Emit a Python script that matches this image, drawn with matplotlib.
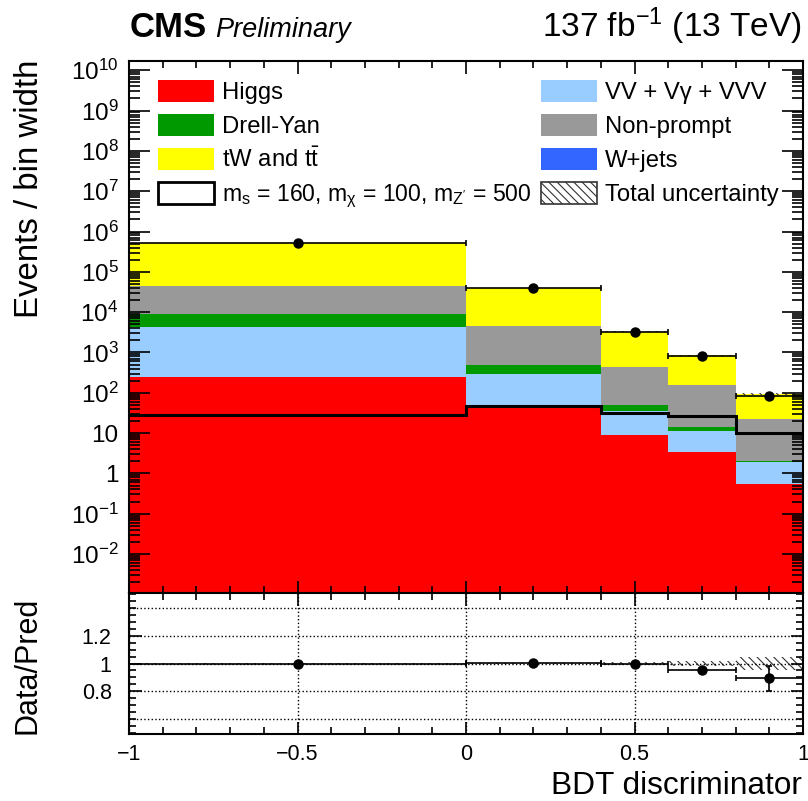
import numpy as np
import matplotlib
matplotlib.use("Agg")
import matplotlib.pyplot as plt
from matplotlib.patches import Rectangle
from matplotlib.ticker import LogLocator, MultipleLocator, FuncFormatter, FixedLocator, NullFormatter

plt.rcParams['font.family'] = ['Liberation Sans', 'DejaVu Sans']
plt.rcParams['mathtext.fontset'] = 'custom'
plt.rcParams['mathtext.rm'] = 'Liberation Sans'
plt.rcParams['mathtext.it'] = 'Liberation Sans:italic'
plt.rcParams['mathtext.bf'] = 'Liberation Sans:bold'
plt.rcParams['hatch.linewidth'] = 0.8

# BDT bins and yields (events / bin width)
edges = np.array([-1.0, 0.0, 0.4, 0.6, 0.8, 1.0])
higgs = np.array([250, 46, 8.9, 3.4, 0.55])
vv = np.array([4050, 240, 26, 7.6, 1.35])
dy = np.array([4600, 204, 14, 3.1, 0.1])
nonprompt = np.array([36100, 3960, 393, 142, 19.9])
top = np.array([485000, 35550, 2858, 694, 70])
wjets = np.array([150, 12, 1.0, 0.3, 0.05])
signal = np.array([28, 47, 31, 27, 9.8])
data = np.array([530000, 40200, 3300, 808, 82])
data_err = np.array([900, 200, 30, 17, 8.5])
syst_rel = np.array([0.004, 0.005, 0.008, 0.02, 0.045])
ratio_ticks = [0.8, 1.0, 1.2]
ratio_grid = [0.6, 1.4]

stack = [
    (higgs, '#ff0000'),
    (vv, '#99ccff'),
    (dy, '#009a00'),
    (nonprompt, '#999999'),
    (top, '#ffff00'),
    (wjets, '#3366ff'),
]

W, H = 808, 801


def fpos(x, y):
    return x / W, 1 - y / H


fig = plt.figure(figsize=(W / 100, H / 100), dpi=100)
ax = fig.add_axes([129 / W, 1 - 593 / H, 674 / W, 532 / H])
ax2 = fig.add_axes([129 / W, 1 - 734 / H, 674 / W, 141 / H], sharex=ax)

centers = 0.5 * (edges[1:] + edges[:-1])
halfw = 0.5 * np.diff(edges)

# stacked backgrounds
bottom = np.full(len(higgs), 1e-6)
for vals, color in stack:
    upper = bottom + vals
    ax.stairs(upper, edges, baseline=bottom, fill=True, color=color, lw=0)
    bottom = upper
total = bottom

ax.stairs(total * (1 + syst_rel), edges, baseline=total * (1 - syst_rel), fill=True,
          facecolor='none', edgecolor='#333333', hatch='\\\\\\\\', lw=0)
ax.stairs(signal, edges, baseline=None, color='black', lw=2.2)
ax.errorbar(centers, data, xerr=halfw, yerr=data_err, fmt='o', color='black',
            ms=6.5, capsize=2.5, elinewidth=1.2, capthick=1.2)

ax.set_yscale('log')
ax.set_ylim(1.08e-3, 1.7e10)
ax.set_xlim(-1, 1)


def log_label(v, pos):
    n = int(round(np.log10(v)))
    if n == 0:
        return '1'
    if n == 1:
        return '10'
    return '$10^{%d}$' % n


ax.yaxis.set_major_locator(LogLocator(base=10, numticks=100))
ax.yaxis.set_minor_locator(LogLocator(base=10, subs=np.arange(2, 10), numticks=100))
ax.yaxis.set_major_formatter(FuncFormatter(log_label))
ax.yaxis.set_minor_formatter(NullFormatter())
ax.xaxis.set_major_locator(MultipleLocator(0.5))
ax.xaxis.set_minor_locator(MultipleLocator(0.1))
ax.tick_params(which='both', direction='in', top=True, right=True, labelbottom=False,
               width=1.2)
ax.tick_params(which='minor', labelleft=False)
ax.tick_params(axis='y', which='major', length=15, pad=7.5, labelsize=17.5)
ax.tick_params(axis='y', which='minor', length=8)
ax.tick_params(axis='x', which='major', length=9)
ax.tick_params(axis='x', which='minor', length=5)

# ratio panel
ratio = data / total
ratio_err = data_err / total
ax2.stairs(1 + syst_rel, edges, baseline=1 - syst_rel, fill=True,
           facecolor='none', edgecolor='#333333', hatch='\\\\\\\\', lw=0)
ax2.errorbar(centers, ratio, xerr=halfw, yerr=ratio_err, fmt='o', color='black',
             ms=6.5, capsize=2.5, elinewidth=1.2, capthick=1.2)
ax2.set_ylim(0.49, 1.51)
ax2.yaxis.set_major_locator(FixedLocator(ratio_ticks))
ax2.yaxis.set_minor_locator(MultipleLocator(0.05))
ax2.yaxis.set_major_formatter(FuncFormatter(lambda v, p: '%g' % v))
ax2.xaxis.set_major_formatter(FuncFormatter(lambda v, p: ('%g' % v).replace('-', '\u2212')))
ax2.grid(True, which='major', ls=':', color='black', lw=1)
for g in ratio_grid:
    ax2.axhline(g, ls=':', color='black', lw=1)
ax2.tick_params(which='both', direction='in', top=True, right=True, labelsize=15.5, width=1.2)
ax2.tick_params(which='minor', labelleft=False, labelbottom=False)
ax2.tick_params(axis='x', which='major', length=9, pad=7.5)
ax2.tick_params(axis='x', which='minor', length=5)
ax2.tick_params(axis='y', which='major', length=9, pad=12.5)
ax2.tick_params(axis='y', which='minor', length=5)

for a in (ax, ax2):
    for sp in a.spines.values():
        sp.set_linewidth(1.5)

# axis titles
fig.text(*fpos(30, 60), 'Events / bin width', rotation=90, ha='center', va='top', size=23.8)
fig.text(*fpos(27, 597), 'Data/Pred', rotation=90, ha='center', va='top', size=22)
fig.text(*fpos(802, 794), 'BDT discriminator', ha='right', va='baseline', size=22.8)

# header
fig.text(*fpos(130, 37), 'CMS', weight='bold', size=25, va='baseline')
fig.text(*fpos(215, 37), 'Preliminary', style='italic', size=19.5, va='baseline')
fig.text(*fpos(802, 37), '137 fb$^{-1}$ (13 TeV)', ha='right', size=24, va='baseline')

# legend
rows = [91, 125, 159, 193]
entries = [
    (158, rows[0], 'Higgs', dict(facecolor='#ff0000', edgecolor='none')),
    (158, rows[1], 'Drell-Yan', dict(facecolor='#009a00', edgecolor='none')),
    (158, rows[2], r'tW and t$\bar{\mathregular{t}}$', dict(facecolor='#ffff00', edgecolor='none')),
    (158, rows[3], r'm$_\mathregular{s}$ = 160, m$_\mathregular{\chi}$ = 100, m$_\mathregular{Z^{\prime}}$ = 500',
     dict(facecolor='white', edgecolor='black', lw=2)),
    (541, rows[0], 'VV + V\u03b3 + VVV', dict(facecolor='#99ccff', edgecolor='none')),
    (541, rows[1], 'Non-prompt', dict(facecolor='#999999', edgecolor='none')),
    (541, rows[2], 'W+jets', dict(facecolor='#3366ff', edgecolor='none')),
    (541, rows[3], 'Total uncertainty', dict(facecolor='white', edgecolor='#333333', lw=1.2,
                                              hatch='\\\\\\\\')),
]
for x0, yc, label, style in entries:
    fig.add_artist(Rectangle(fpos(x0, yc + 11), 56 / W, 22 / H, transform=fig.transFigure, **style))
    fig.text(*fpos(x0 + 64, yc + 8), label, size=16.6 if label.startswith('m$') else 17.2,
             va='baseline')

fig.savefig('out.png', dpi=100)
